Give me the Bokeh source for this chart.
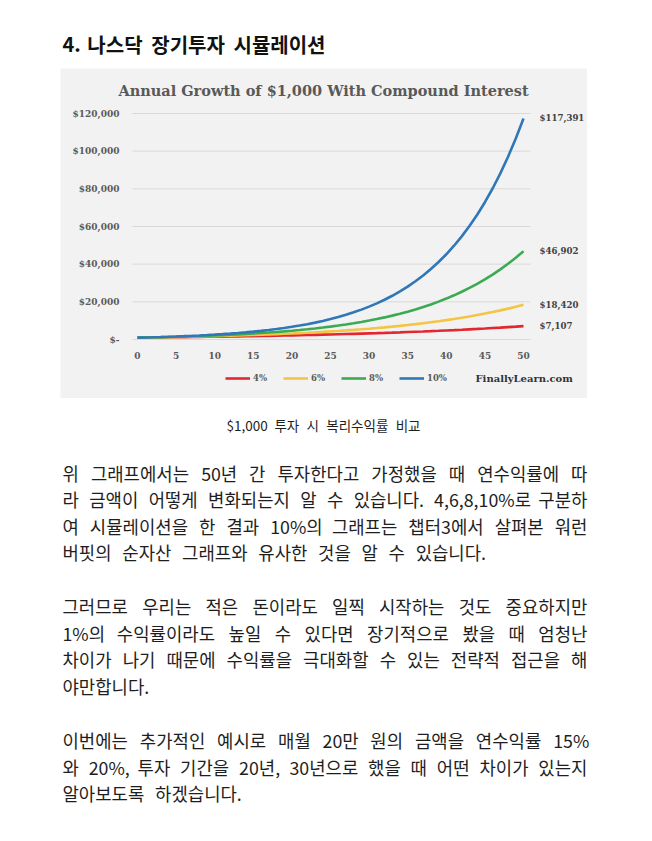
from bokeh.plotting import figure
from bokeh.layouts import column
from bokeh.models import (Range1d, FixedTicker, Legend, LegendItem, Label, LabelSet,
                          ColumnDataSource)
from bokeh.core.properties import value
from bokeh.embed import file_html
from bokeh.resources import INLINE

# ---------------- data ----------------
YEARS = list(range(0, 51))
RATE_LABELS = ["4%", "6%", "8%", "10%"]
GROWTH_4 = [1000, 1040, 1082, 1125, 1170, 1217, 1265, 1316, 1369, 1423, 1480,
            1539, 1601, 1665, 1732, 1801, 1873, 1948, 2026, 2107, 2191,
            2279, 2370, 2465, 2563, 2666, 2772, 2883, 2999, 3119, 3243,
            3373, 3508, 3648, 3794, 3946, 4104, 4268, 4439, 4616, 4801,
            4993, 5193, 5401, 5617, 5841, 6075, 6318, 6571, 6833, 7107]
GROWTH_6 = [1000, 1060, 1124, 1191, 1262, 1338, 1419, 1504, 1594, 1689, 1791,
            1898, 2012, 2133, 2261, 2397, 2540, 2693, 2854, 3026, 3207,
            3400, 3604, 3820, 4049, 4292, 4549, 4822, 5112, 5418, 5743,
            6088, 6453, 6841, 7251, 7686, 8147, 8636, 9154, 9704, 10286,
            10903, 11557, 12250, 12985, 13765, 14590, 15466, 16394, 17378, 18420]
GROWTH_8 = [1000, 1080, 1166, 1260, 1360, 1469, 1587, 1714, 1851, 1999, 2159,
            2332, 2518, 2720, 2937, 3172, 3426, 3700, 3996, 4316, 4661,
            5034, 5437, 5871, 6341, 6848, 7396, 7988, 8627, 9317, 10063,
            10868, 11737, 12676, 13690, 14785, 15968, 17246, 18625, 20115, 21725,
            23462, 25339, 27367, 29556, 31920, 34474, 37232, 40211, 43427, 46902]
GROWTH_10 = [1000, 1100, 1210, 1331, 1464, 1611, 1772, 1949, 2144, 2358, 2594,
             2853, 3138, 3452, 3798, 4177, 4595, 5054, 5560, 6116, 6727,
             7400, 8140, 8954, 9850, 10835, 11918, 13110, 14421, 15863, 17449,
             19194, 21114, 23225, 25548, 28102, 30913, 34004, 37404, 41145, 45259,
             49785, 54764, 60240, 66264, 72890, 80180, 88197, 97017, 106719, 117391]
SERIES = [GROWTH_4, GROWTH_6, GROWTH_8, GROWTH_10]
COLORS = ["#e3262f", "#f4c542", "#3bab52", "#2f77b6"]

X_TICKS = [0, 5, 10, 15, 20, 25, 30, 35, 40, 45, 50]
Y_TICKS = [0, 20000, 40000, 60000, 80000, 100000, 120000]
Y_TICK_LABELS = ["$-", "$20,000", "$40,000", "$60,000", "$80,000", "$100,000", "$120,000"]

CHART_TITLE = "Annual Growth of $1,000 With Compound Interest"
SOURCE_NOTE = "FinallyLearn.com"
HEADING = "4. 나스닥 장기투자 시뮬레이션"
CAPTION = "$1,000 투자 시 복리수익률 비교"
PARAGRAPHS = [
    ["위 그래프에서는 50년 간 투자한다고 가정했을 때 연수익률에 따",
     "라 금액이 어떻게 변화되는지 알 수 있습니다. 4,6,8,10%로 구분하",
     "여 시뮬레이션을 한 결과 10%의 그래프는 챕터3에서 살펴본 워런",
     "버핏의 순자산 그래프와 유사한 것을 알 수 있습니다."],
    ["그러므로 우리는 적은 돈이라도 일찍 시작하는 것도 중요하지만",
     "1%의 수익률이라도 높일 수 있다면 장기적으로 봤을 때 엄청난",
     "차이가 나기 때문에 수익률을 극대화할 수 있는 전략적 접근을 해",
     "야만합니다."],
    ["이번에는 추가적인 예시로 매월 20만 원의 금액을 연수익률 15%",
     "와 20%, 투자 기간을 20년, 30년으로 했을 때 어떤 차이가 있는지",
     "알아보도록 하겠습니다."],
]

KR = "Noto Sans CJK KR"
SERIF = "DejaVu Serif"
HANGUL_EM = 0.92


def em_width(s):
    tot = 0.0
    for ch in s:
        o = ord(ch)
        if 0xAC00 <= o <= 0xD7A3 or 0x1100 <= o <= 0x11FF:
            tot += HANGUL_EM
        elif ch.isdigit() or ch == "$":
            tot += 0.55
        elif ch == "%":
            tot += 0.83
        elif ch in ",.":
            tot += 0.26
        else:
            tot += 0.6
    return tot


def layout_line(line, x0, y, fs, gap_em=None, right=None):
    words = line.split(" ")
    widths = [em_width(w) * fs for w in words]
    if right is not None and len(words) > 1:
        gap = (right - x0 - sum(widths)) / (len(words) - 1)
    else:
        gap = gap_em * fs
    xs, x = [], x0
    for w in widths:
        xs.append(x)
        x += w + gap
    return words, xs, [y] * len(words)


def text_fig(h, w=640):
    f = figure(width=w, height=h, x_range=Range1d(0, w), y_range=Range1d(h, 0),
               output_backend="svg", toolbar_location=None, x_axis_type=None, y_axis_type=None,
               min_border=0, outline_line_color=None, background_fill_color="white",
               border_fill_color="white", frame_align=False)
    f.grid.visible = False
    return f


# ---------------- top (heading), page y 0..68 ----------------
top = text_fig(68)
hw, hx, hy = layout_line(HEADING, 62, 44, 20, right=325)
top.text(x=hx, y=hy, text=hw, text_font=value(KR), text_font_style="bold",
         text_font_size="20px", text_color="#111111", text_baseline="middle", text_align="left")

# ---------------- chart, page x 60..587, y 68..398 ----------------
PX_PER_YEAR = 7.72
PX_PER_USD = 226 / 120000.0
x_start = -(137 - 60) / PX_PER_YEAR
x_end = 50 + (587 - 523) / PX_PER_YEAR
y_start = -(398 - 339) / PX_PER_USD
y_end = 120000 + (113 - 68) / PX_PER_USD

p = figure(width=527, height=330, x_range=Range1d(x_start, x_end), y_range=Range1d(y_start, y_end),
           output_backend="svg", toolbar_location=None, min_border=0,
           background_fill_color="#f2f2f2", border_fill_color="#f2f2f2",
           outline_line_color=None, margin=(0, 0, 0, 60), frame_align=False)
p.xgrid.grid_line_color = None
p.ygrid.grid_line_color = None
grid_x0 = -(137 - 132) / PX_PER_YEAR
grid_x1 = 50 + (530 - 523) / PX_PER_YEAR
p.segment(x0=[grid_x0] * len(Y_TICKS), x1=[grid_x1] * len(Y_TICKS), y0=Y_TICKS, y1=Y_TICKS,
          line_color="#d9d9d9", line_width=1)

p.xaxis.ticker = FixedTicker(ticks=X_TICKS)
p.yaxis.ticker = FixedTicker(ticks=Y_TICKS)
p.yaxis.major_label_overrides = {t: l for t, l in zip(Y_TICKS, Y_TICK_LABELS)}
p.yaxis.fixed_location = grid_x0
p.xaxis.fixed_location = 0
for ax in (p.xaxis[0], p.yaxis[0]):
    ax.axis_line_color = None
    ax.major_tick_line_color = None
    ax.minor_tick_line_color = None
    ax.major_tick_in = 0
    ax.major_tick_out = 0
    ax.minor_tick_in = 0
    ax.minor_tick_out = 0
    ax.major_label_text_font = SERIF
    ax.major_label_text_font_style = "bold"
    ax.major_label_text_font_size = "9px"
    ax.major_label_text_color = "#5a5a5a"
p.yaxis.major_label_standoff = 13
p.xaxis.major_label_standoff = 12

renderers = []
for vals, col in zip(SERIES, COLORS):
    r = p.line(YEARS, vals, line_color=col, line_width=2.6)
    renderers.append(r)

legend = Legend(items=[LegendItem(label=lab, renderers=[r]) for lab, r in zip(RATE_LABELS, renderers)],
                orientation="horizontal", location=(165, 14), glyph_width=25, glyph_height=12,
                label_height=12, label_standoff=3, spacing=10, padding=0, margin=0,
                border_line_color=None, background_fill_alpha=0,
                label_text_font=SERIF, label_text_font_style="bold",
                label_text_font_size="8.5px", label_text_color="#5a5a5a")
p.add_layout(legend)

p.add_layout(Label(x=263, y=(339 - 90) / PX_PER_USD, x_units="screen", y_units="data", text=CHART_TITLE,
                   text_font=SERIF, text_font_style="bold", text_font_size="14.5px",
                   text_color="#595959", text_align="center", text_baseline="middle"))
p.add_layout(Label(x=415, y=(339 - 378) / PX_PER_USD, x_units="screen", y_units="data", text=SOURCE_NOTE,
                   text_font=SERIF, text_font_style="bold", text_font_size="10px",
                   text_color="#333333", text_align="left", text_baseline="middle"))

end_src = ColumnDataSource(dict(x=[YEARS[-1]] * 4, y=[s[-1] for s in SERIES],
                                t=["${:,}".format(s[-1]) for s in SERIES]))
p.add_layout(LabelSet(x="x", y="y", text="t", source=end_src, x_offset=16,
                      text_font=value(SERIF), text_font_style="bold", text_font_size="8.6px",
                      text_color="#404040", text_baseline="middle", text_align="left"))

# ---------------- body text, page y 398..833 ----------------
OFF_Y = 398
bot = text_fig(435)
words, xs, ys, sizes = [], [], [], []
cap_fs = 13.5
cw = [em_width(w) * cap_fs for w in CAPTION.split(" ")]
cap_total = sum(cw) + 0.54 * cap_fs * (len(cw) - 1)
w_, x_, y_ = layout_line(CAPTION, 323 - cap_total / 2, 424 - OFF_Y, cap_fs, gap_em=0.54)
words += w_; xs += x_; ys += y_; sizes += ["13.5px"] * len(w_)

BODY_FS = 17.8
PARA_TOP = [472, 605.5, 739.5]
LINE_H = 26.6
for para, ptop in zip(PARAGRAPHS, PARA_TOP):
    for i, line in enumerate(para):
        y = ptop + i * LINE_H - OFF_Y
        if i == len(para) - 1:
            w_, x_, y_ = layout_line(line, 62, y, BODY_FS, gap_em=0.6)
        else:
            w_, x_, y_ = layout_line(line, 62, y, BODY_FS, right=587)
        words += w_; xs += x_; ys += y_; sizes += ["17.8px"] * len(w_)

src = ColumnDataSource(dict(x=xs, y=ys, text=words, size=sizes))
bot.text(x="x", y="y", text="text", source=src, text_font=value(KR), text_font_size="size",
         text_color="#1e1e1e", text_baseline="middle", text_align="left")

page = column(top, p, bot, spacing=0)
open("out.html", "w").write(file_html(page, INLINE))
